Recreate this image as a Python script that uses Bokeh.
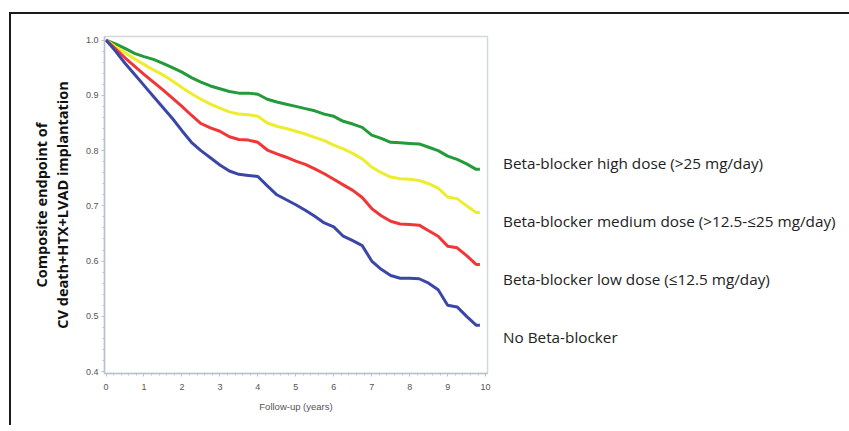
from bokeh.plotting import figure
from bokeh.models import (Range1d, FixedTicker, NumeralTickFormatter, Legend,
                          LegendItem)
from bokeh.embed import file_html
from bokeh.resources import INLINE

# ---- data ----
years = [0, 0.25, 0.5, 0.75, 1.0, 1.25, 1.5, 1.75, 2.0, 2.25, 2.5, 2.75, 3.0,
         3.25, 3.5, 3.75, 4.0, 4.25, 4.5, 4.75, 5.0, 5.25, 5.5, 5.75, 6.0,
         6.25, 6.5, 6.75, 7.0, 7.25, 7.5, 7.75, 8.0, 8.25, 8.5, 8.75, 9.0,
         9.25, 9.5, 9.75, 9.85]

high_dose = [1.0, 0.993, 0.985, 0.976, 0.970, 0.965, 0.958, 0.950, 0.942, 0.932,
             0.924, 0.917, 0.912, 0.907, 0.904, 0.904, 0.902, 0.893, 0.888, 0.884,
             0.880, 0.876, 0.872, 0.866, 0.862, 0.853, 0.848, 0.842, 0.828, 0.822,
             0.815, 0.814, 0.813, 0.812, 0.806, 0.800, 0.790, 0.784, 0.776, 0.766,
             0.766]

medium_dose = [1.0, 0.988, 0.977, 0.966, 0.956, 0.946, 0.937, 0.926, 0.914, 0.903,
               0.893, 0.884, 0.877, 0.870, 0.866, 0.865, 0.862, 0.850, 0.844, 0.840,
               0.835, 0.830, 0.824, 0.818, 0.810, 0.803, 0.795, 0.785, 0.770, 0.760,
               0.752, 0.749, 0.748, 0.746, 0.740, 0.732, 0.716, 0.713, 0.700, 0.688,
               0.688]

low_dose = [1.0, 0.984, 0.968, 0.953, 0.938, 0.924, 0.910, 0.895, 0.880, 0.864,
            0.849, 0.841, 0.835, 0.825, 0.820, 0.819, 0.815, 0.801, 0.794, 0.788,
            0.781, 0.775, 0.767, 0.758, 0.748, 0.738, 0.728, 0.715, 0.695, 0.682,
            0.672, 0.667, 0.666, 0.665, 0.655, 0.645, 0.627, 0.624, 0.610, 0.594,
            0.594]

no_bb = [1.0, 0.980, 0.958, 0.938, 0.918, 0.898, 0.878, 0.858, 0.836, 0.815,
         0.800, 0.787, 0.774, 0.763, 0.757, 0.755, 0.753, 0.736, 0.720, 0.711,
         0.702, 0.692, 0.681, 0.669, 0.662, 0.645, 0.637, 0.628, 0.600, 0.585,
         0.574, 0.569, 0.569, 0.568, 0.560, 0.548, 0.520, 0.517, 0.500, 0.484,
         0.484]

series_names = ["Beta-blocker high dose (>25 mg/day)",
                "Beta-blocker medium dose (>12.5-\u226425 mg/day)",
                "Beta-blocker low dose (\u226412.5 mg/day)",
                "No Beta-blocker"]
series_values = [high_dose, medium_dose, low_dose, no_bb]
series_colors = ["#249b3a", "#eded2c", "#f03636", "#3a47a8"]

x_ticks = [0, 1, 2, 3, 4, 5, 6, 7, 8, 9, 10]
y_ticks = [0.4, 0.5, 0.6, 0.7, 0.8, 0.9, 1.0]

W, H = 841, 425
FL, FT, FR, FB = 104, 36, 487, 373   # frame edges on the page
p = figure(frame_width=FR - FL, frame_height=FB - FT,
           output_backend="svg", toolbar_location=None,
           x_range=Range1d(-0.04, 10.05), y_range=Range1d(0.3965, 1.0065),
           min_border_left=FL, min_border_right=W - FR, min_border_top=FT,
           min_border_bottom=H - FB)
p.outline_line_color = "#d3d8de"
p.outline_line_width = 1.5
p.xgrid.visible = False
p.ygrid.visible = False
p.background_fill_color = "white"
p.border_fill_color = None
# black frame lines (top and left) of the figure panel
p.styles = {
    "background-color": "white",
    "background-image": "linear-gradient(#1a1a1a, #1a1a1a), linear-gradient(#1a1a1a, #1a1a1a)",
    "background-position": "10px 12px, 9px 12px",
    "background-size": "100% 2px, 2px 100%",
    "background-repeat": "no-repeat",
}

axis_col = "#b9c3cf"
for ax in (p.xaxis[0], p.yaxis[0]):
    ax.axis_line_color = axis_col
    ax.axis_line_width = 1.5
    ax.major_tick_line_color = axis_col
    ax.minor_tick_line_color = axis_col
    ax.major_tick_in = 0
    ax.major_tick_out = 3
    ax.minor_tick_in = 0
    ax.minor_tick_out = 2
    ax.major_label_text_font = "Liberation Sans"
    ax.major_label_text_font_size = "9px"
    ax.major_label_text_color = "#555555"

p.xaxis.ticker = FixedTicker(ticks=x_ticks,
                             minor_ticks=[i / 5 for i in range(0, 51)])
p.yaxis.ticker = FixedTicker(ticks=y_ticks,
                             minor_ticks=[0.4 + i / 50 for i in range(0, 31)])
p.yaxis.formatter = NumeralTickFormatter(format="0.0")
p.yaxis.major_label_standoff = 3
p.xaxis.major_label_standoff = 7
p.xaxis.axis_label = "Follow-up (years)"
p.xaxis.axis_label_text_font = "Liberation Sans"
p.xaxis.axis_label_text_font_size = "9.5px"
p.xaxis.axis_label_text_font_style = "normal"
p.xaxis.axis_label_text_color = "#555555"
p.xaxis.axis_label_standoff = 8

p.yaxis.axis_label = "Composite endpoint of\nCV death+HTX+LVAD implantation"
p.yaxis.axis_label_text_font = "Open Sans"
p.yaxis.axis_label_text_font_size = "14.5px"
p.yaxis.axis_label_text_font_style = "bold"
p.yaxis.axis_label_text_color = "#111111"
p.yaxis.axis_label_text_line_height = 1.12
p.yaxis.axis_label_standoff = 11

for vals, col in zip(series_values, series_colors):
    p.line(years, vals, line_color=col, line_width=3)

# small grey marks in front of the legend texts
items = []
for name in series_names:
    mark = p.rect(x=[], y=[], width=1, height=1, fill_color="#c4c4c4",
                  line_color=None)
    items.append(LegendItem(label=name, renderers=[mark]))

legend = Legend(items=items, location=(9, 26), orientation="vertical",
                glyph_width=1, glyph_height=10, label_standoff=6,
                label_height=20, spacing=38, padding=0, margin=0,
                label_text_font="Open Sans", label_text_font_size="15.3px",
                label_text_color="#222222", background_fill_alpha=0,
                border_line_color=None)
p.add_layout(legend, "right")

open("out.html", "w").write(file_html(p, INLINE))
